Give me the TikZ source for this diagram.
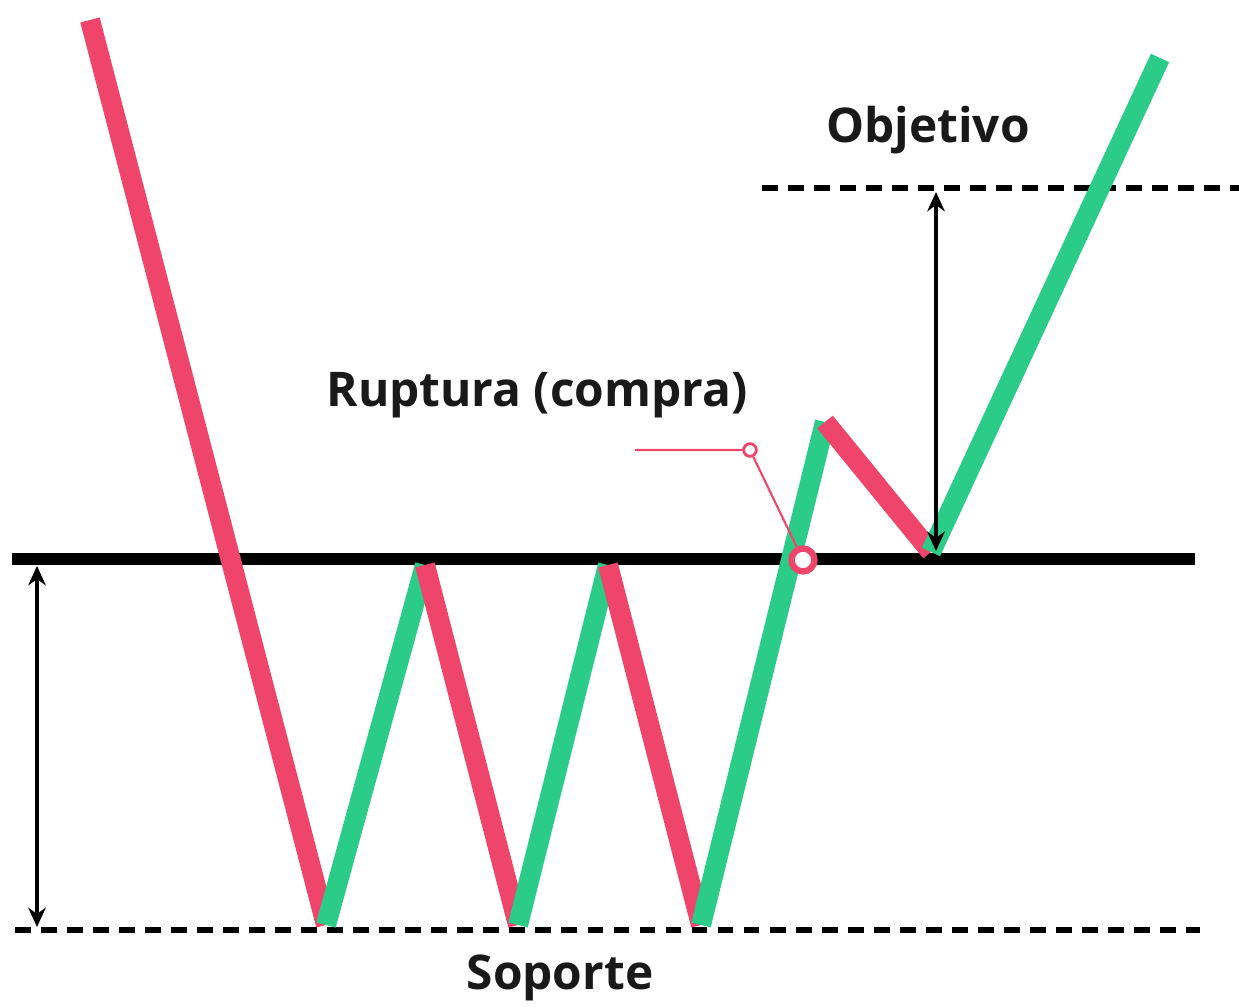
\documentclass[tikz,border=0pt]{standalone}
\usepackage{fontspec}
\setmainfont{Open Sans}
\usetikzlibrary{arrows.meta, calc, positioning}

\definecolor{bearred}{HTML}{F0456B}
\definecolor{bullgreen}{HTML}{2BCB88}

\tikzset{
  down/.style={draw=bearred, line width=5.7pt},
  up/.style={draw=bullgreen, line width=5.7pt},
  guide/.style={draw=black, line width=1.5pt, dash pattern=on 4.5pt off 2.9pt},
  span/.style={draw=black, line width=1pt, {Stealth[length=5.5pt,width=5pt]}-{Stealth[length=5.5pt,width=5pt]}},
  tag/.style={font=\bfseries\fontsize{13.6}{16}\selectfont, text=black!90},
}

\begin{document}
\begin{tikzpicture}[x=0.01cm, y=-0.01cm]
    \path[use as bounding box] (0,0) rectangle (1239,1007);

    % turning points of the price
    \coordinate (p0) at (90,20);
    \coordinate (p1) at (326,925);
    \coordinate (p2) at (425,565);
    \coordinate (p3) at (518,925);
    \coordinate (p4) at (608,565);
    \coordinate (p5) at (701,925);
    \coordinate (p6) at (825,422);
    \coordinate (p7) at (931,552);
    \coordinate (p8) at (1160,58);

    % levels
    \draw[guide] (15,930) -- (1200,930);
    \draw[guide] (762,188) -- (1239,188);
    \draw[line width=3.4pt] (12,559) -- (1195,559);

    % price path
    \draw[down] (p0) -- (p1);
    \draw[up] (p1) -- (p2);
    \draw[down] (p2) -- (p3);
    \draw[up] (p3) -- (p4);
    \draw[down] (p4) -- (p5);
    \draw[up] (p5) -- (p6);
    \draw[down] (p6) -- (p7);
    \draw[up] (p7) -- (p8);

    % heights
    \coordinate (lt) at (37,566);
    \coordinate (lb) at (37,927);
    \coordinate (rt) at (936,192);
    \coordinate (rb) at (936,551);
    \draw[span] (lt) -- (lb);
    \draw[span] (rt) -- (rb);

    % breakout marker
    \node[circle, draw=bearred, line width=1.8pt, fill=white, inner sep=0pt,
          minimum size=6.5pt] (brk) at (803,560) {};
    \node[circle, draw=bearred, line width=0.8pt, fill=white, inner sep=0pt,
          minimum size=3.6pt] (knee) at (750,450) {};
    \coordinate (lead) at (635,450);
    \draw[bearred, line width=0.6pt] (lead) -- (knee) -- (brk);

    % labels
    \node[tag] (target) at (928,130) {Objetivo};
    \node[tag] (breakout) at (537,395) {Ruptura (compra)};
    \node[tag] (support) at (560,978) {Soporte};

\end{tikzpicture}
\end{document}
